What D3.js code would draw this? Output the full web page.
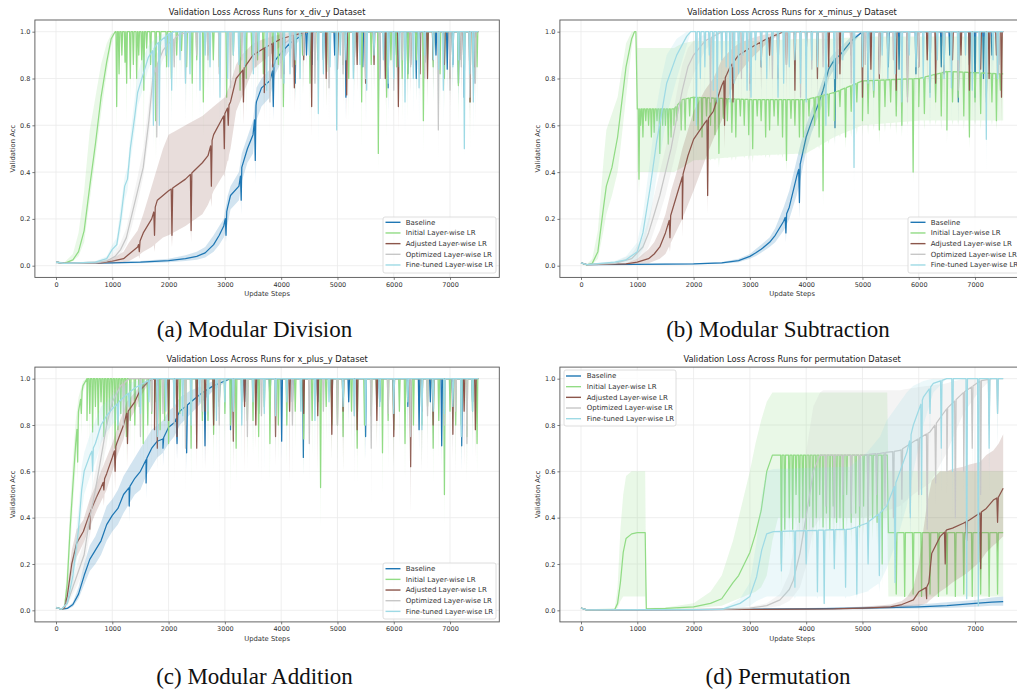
<!DOCTYPE html>
<html><head><meta charset="utf-8">
<script src="https://cdn.jsdelivr.net/npm/d3@7"></script>
<style>body{margin:0;background:#fff;overflow:hidden} svg{display:block}</style>
</head><body><svg id="c" width="1017" height="691"></svg>
<script>
// ---------- labels ----------
const seriesNames = ["Baseline","Initial Layer-wise LR","Adjusted Layer-wise LR","Optimized Layer-wise LR","Fine-tuned Layer-wise LR"];
const seriesColors = ["#1f77b4","#92dc85","#8c564b","#c7c7c7","#9edae5"];
const xTicks = [0,1000,2000,3000,4000,5000,6000,7000];
const yTicks = [0,0.2,0.4,0.6,0.8,1.0];
const panelTitles = ["Validation Loss Across Runs for x_div_y Dataset","Validation Loss Across Runs for x_minus_y Dataset","Validation Loss Across Runs for x_plus_y Dataset","Validation Loss Across Runs for permutation Dataset"];
const panelCaptions = ["(a) Modular Division","(b) Modular Subtraction","(c) Modular Addition","(d) Permutation"];
const xLabel = "Update Steps", yLabel = "Validation Acc";

// ---------- data: knots [step, mean, low, high]; dips [step, mean, bandLow] ----------
// (a) x_div_y
const A_base = [[0,0.015,0.01,0.02],[150,0.01,0.008,0.012],[1000,0.012,0.009,0.015],[1500,0.015,0.01,0.02],[2000,0.022,0.015,0.03],[2300,0.03,0.02,0.045],[2500,0.04,0.025,0.06],[2650,0.055,0.035,0.08],[2800,0.09,0.06,0.13],[2900,0.13,0.09,0.17],[2980,0.17,0.12,0.2],[3050,0.25,0.18,0.3],[3100,0.3,0.24,0.34],[3250,0.34,0.28,0.4],[3300,0.42,0.36,0.48],[3400,0.5,0.44,0.55],[3500,0.56,0.48,0.62],[3560,0.7,0.62,0.76],[3650,0.76,0.68,0.8],[3800,0.79,0.72,0.84],[3900,0.88,0.82,0.92],[4000,0.91,0.87,0.94],[4150,0.95,0.92,0.97],[4400,0.99,0.98,1],[4600,1,1,1],[7500,1,1,1]];
const A_base_dips = [[3020,0.13,0.1],[3290,0.28,0.22],[3540,0.45,0.35],[3860,0.68,0.62],[4050,0.85,0.8],[4150,0.9,0.82],[4250,0.78,0.7],[4450,0.9,0.85],[4550,0.86,0.78],[4750,0.88,0.8],[4950,0.9,0.8],[5150,0.72,0.62],[5300,0.88,0.78],[5450,0.85,0.75],[5750,0.8,0.7],[5900,0.76,0.66],[6050,0.9,0.8],[6250,0.82,0.72],[6400,0.8,0.7],[6550,0.87,0.8],[6750,0.9,0.8],[6950,0.84,0.75],[7050,0.86,0.76],[7150,0.78,0.68],[7250,0.72,0.6],[7350,0.9,0.8],[7420,0.78,0.7]];
const A_init = [[0,0.015,0.01,0.02],[150,0.01,0.008,0.015],[300,0.025,0.02,0.05],[400,0.06,0.04,0.14],[500,0.15,0.1,0.32],[600,0.34,0.28,0.58],[700,0.52,0.46,0.72],[800,0.72,0.65,0.86],[900,0.87,0.82,0.95],[980,0.97,0.94,0.99],[1050,1,1,1],[7500,1,1,1]];
const A_init_dips = [[1078,0.68,0.55],[1120,0.82,0.7],[1170,0.9,0.8],[1226,0.87,0.8],[1255,0.78,0.6],[1320,0.8,0.7],[1374,0.86,0.75],[1433,0.8,0.65],[1470,0.9,0.78],[1522,0.88,0.7],[1560,0.75,0.5],[1610,0.93,0.8],[1680,0.86,0.72],[1770,0.62,0.45],[1850,0.9,0.78],[1966,0.85,0.7],[2050,0.8,0.65],[2144,0.9,0.75],[2230,0.92,0.8],[2321,0.85,0.7],[2420,0.78,0.6],[2500,0.88,0.7],[2617,0.7,0.55],[2700,0.9,0.75],[2795,0.88,0.72],[2900,0.85,0.7],[3032,0.72,0.6],[3150,0.9,0.75],[3270,0.75,0.6],[3380,0.8,0.65],[3480,0.9,0.75],[3580,0.88,0.72],[3683,0.82,0.65],[3850,0.88,0.7],[3950,0.86,0.7],[4039,0.68,0.5],[4250,0.86,0.7],[4380,0.9,0.72],[4512,0.78,0.62],[4650,0.88,0.7],[4808,0.83,0.66],[5000,0.9,0.72],[5100,0.86,0.7],[5200,0.8,0.62],[5300,0.9,0.74],[5430,0.7,0.5],[5600,0.86,0.7],[5726,0.48,0.4],[5874,0.72,0.55],[5950,0.88,0.7],[6050,0.85,0.7],[6150,0.8,0.62],[6250,0.8,0.62],[6400,0.88,0.7],[6526,0.62,0.48],[6600,0.88,0.72],[6700,0.85,0.7],[6822,0.82,0.66],[6900,0.8,0.66],[7000,0.88,0.7],[7148,0.77,0.6],[7250,0.86,0.7],[7355,0.7,0.5],[7420,0.8,0.65],[7480,0.85,0.7]];
const A_adj = [[0,0.015,0.01,0.02],[150,0.01,0.008,0.012],[800,0.012,0.008,0.02],[1000,0.02,0.01,0.03],[1200,0.03,0.015,0.06],[1300,0.05,0.02,0.1],[1450,0.08,0.04,0.15],[1550,0.14,0.06,0.22],[1700,0.2,0.08,0.34],[1800,0.28,0.1,0.42],[1900,0.3,0.12,0.5],[2000,0.32,0.13,0.56],[2300,0.37,0.17,0.6],[2600,0.44,0.22,0.64],[2700,0.47,0.26,0.66],[2800,0.56,0.32,0.68],[3000,0.65,0.4,0.72],[3100,0.7,0.5,0.78],[3200,0.8,0.66,0.86],[3300,0.83,0.72,0.9],[3500,0.9,0.84,0.95],[3700,0.93,0.88,0.97],[4000,0.97,0.94,0.99],[4300,0.99,0.98,1],[4500,1,1,1],[7500,1,1,1]];
const A_adj_dips = [[1480,0.06,0.03],[1750,0.13,0.06],[2060,0.13,0.08],[2400,0.15,0.1],[2760,0.34,0.25],[2990,0.5,0.38],[3060,0.6,0.45],[3330,0.7,0.6],[3700,0.74,0.6],[3850,0.85,0.75],[4050,0.82,0.7],[4234,0.76,0.65],[4400,0.88,0.76],[4542,0.68,0.55],[4800,0.8,0.68],[5000,0.84,0.7],[5164,0.73,0.62],[5350,0.86,0.74],[5500,0.78,0.68],[5650,0.86,0.75],[5850,0.8,0.68],[6082,0.68,0.56],[6300,0.86,0.74],[6467,0.82,0.7],[6600,0.8,0.68],[6700,0.88,0.75],[6900,0.86,0.74],[7000,0.8,0.68],[7200,0.88,0.75],[7355,0.7,0.6],[7440,0.85,0.72]];
const A_opt = [[0,0.015,0.01,0.02],[150,0.01,0.008,0.012],[700,0.012,0.008,0.018],[900,0.02,0.012,0.03],[1050,0.04,0.02,0.06],[1150,0.07,0.05,0.1],[1250,0.12,0.09,0.16],[1350,0.22,0.17,0.27],[1450,0.32,0.27,0.38],[1550,0.42,0.38,0.5],[1650,0.62,0.55,0.7],[1720,0.8,0.72,0.86],[1780,0.85,0.8,0.9],[1900,0.92,0.88,0.95],[2000,0.95,0.92,0.98],[2200,0.99,0.97,1],[2400,1,1,1],[7500,1,1,1]];
const A_opt_dips = [[1790,0.55,0.45],[2100,0.85,0.75],[2300,0.8,0.6],[2500,0.9,0.8],[2700,0.88,0.7],[2900,0.82,0.7],[3100,0.76,0.6],[3300,0.88,0.75],[3550,0.85,0.7],[3800,0.7,0.55],[4000,0.8,0.6],[4200,0.85,0.7],[4400,0.9,0.72],[4600,0.78,0.6],[4850,0.76,0.6],[5100,0.82,0.68],[5300,0.86,0.7],[5500,0.8,0.6],[5750,0.8,0.62],[6000,0.75,0.6],[6150,0.88,0.7],[6300,0.85,0.7],[6550,0.8,0.6],[6792,0.58,0.45],[7000,0.75,0.6],[7200,0.85,0.65],[7350,0.72,0.55],[7450,0.78,0.6]];
const A_fine = [[0,0.015,0.01,0.02],[150,0.01,0.008,0.012],[700,0.015,0.01,0.02],[900,0.03,0.02,0.04],[1000,0.07,0.05,0.09],[1080,0.09,0.07,0.12],[1150,0.2,0.15,0.26],[1220,0.34,0.28,0.38],[1270,0.37,0.32,0.42],[1320,0.5,0.44,0.56],[1400,0.64,0.58,0.72],[1450,0.74,0.68,0.82],[1500,0.78,0.72,0.86],[1640,0.89,0.84,0.94],[1800,0.95,0.92,0.98],[2000,0.99,0.98,1],[2100,1,1,1],[7500,1,1,1]];
const A_fine_dips = [[1730,0.6,0.5],[1835,0.6,0.5],[1950,0.9,0.8],[2000,0.85,0.7],[2055,0.75,0.6],[2203,0.88,0.75],[2300,0.78,0.62],[2380,0.82,0.7],[2558,0.75,0.6],[2650,0.9,0.75],[2736,0.85,0.7],[2913,0.72,0.6],[3050,0.8,0.65],[3150,0.9,0.75],[3250,0.86,0.7],[3350,0.85,0.7],[3506,0.82,0.65],[3600,0.9,0.75],[3742,0.75,0.6],[3890,0.85,0.7],[4050,0.78,0.6],[4157,0.82,0.66],[4250,0.88,0.72],[4335,0.8,0.62],[4500,0.9,0.75],[4660,0.65,0.5],[4750,0.82,0.66],[4868,0.85,0.7],[4986,0.58,0.45],[5050,0.9,0.74],[5150,0.88,0.72],[5282,0.8,0.64],[5400,0.86,0.7],[5519,0.75,0.6],[5650,0.9,0.75],[5815,0.88,0.72],[5900,0.78,0.62],[6000,0.8,0.65],[6100,0.85,0.7],[6200,0.7,0.55],[6348,0.8,0.64],[6450,0.76,0.6],[6550,0.9,0.75],[6703,0.88,0.7],[6800,0.84,0.68],[6881,0.75,0.6],[7050,0.85,0.7],[7150,0.88,0.72],[7254,0.5,0.46],[7350,0.82,0.66],[7414,0.7,0.55]];

// (b) x_minus_y
const B_base = [[0,0.012,0.01,0.015],[100,0.005,0.003,0.007],[1000,0.006,0.004,0.008],[2000,0.008,0.005,0.011],[2500,0.012,0.008,0.016],[2800,0.022,0.015,0.03],[3000,0.04,0.03,0.05],[3100,0.054,0.04,0.07],[3200,0.07,0.055,0.09],[3350,0.1,0.08,0.12],[3450,0.13,0.1,0.16],[3600,0.19,0.15,0.25],[3700,0.25,0.2,0.32],[3830,0.38,0.3,0.45],[3900,0.44,0.37,0.52],[4000,0.55,0.49,0.6],[4100,0.62,0.57,0.67],[4200,0.68,0.63,0.73],[4300,0.75,0.7,0.8],[4400,0.84,0.8,0.88],[4500,0.88,0.84,0.91],[4600,0.9,0.87,0.93],[4800,0.96,0.94,0.98],[5000,1,1,1],[7500,1,1,1]];
const B_base_dips = [[3640,0.14,0.1],[3880,0.27,0.2],[4512,0.59,0.5],[5100,0.75,0.65],[5300,0.88,0.78],[5460,0.85,0.75],[5650,0.84,0.75],[5800,0.9,0.8],[5950,0.82,0.7],[6200,0.8,0.7],[6400,0.85,0.75],[6550,0.9,0.8],[6703,0.7,0.6],[6900,0.86,0.76],[7000,0.72,0.6],[7150,0.8,0.7],[7300,0.9,0.8],[7420,0.86,0.76]];
const B_init = [[0,0.012,0.01,0.015],[100,0.003,0.002,0.005],[200,0.01,0.005,0.03],[300,0.06,0.03,0.15],[400,0.25,0.15,0.45],[450,0.34,0.22,0.58],[550,0.42,0.3,0.65],[650,0.55,0.4,0.72],[700,0.65,0.5,0.8],[800,0.85,0.72,0.95],[900,0.97,0.93,1],[950,1,1,1],[975,1,1,1],[1000,0.67,0.4,0.93],[1650,0.67,0.4,0.93],[1800,0.71,0.42,0.95],[2000,0.72,0.45,0.96],[3000,0.71,0.47,0.96],[4000,0.71,0.48,0.97],[4500,0.74,0.55,0.97],[5000,0.79,0.6,0.98],[6000,0.8,0.62,0.98],[6500,0.83,0.62,0.98],[7500,0.82,0.62,0.98]];
const B_init_dips = [[1030,0.37,0.3],[1060,0.6,0.45],[1100,0.55,0.42],[1150,0.62,0.45],[1200,0.6,0.45],[1250,0.55,0.42],[1300,0.57,0.42],[1350,0.62,0.45],[1400,0.48,0.4],[1450,0.6,0.44],[1500,0.6,0.45],[1550,0.52,0.42],[1600,0.55,0.42],[1650,0.6,0.44],[1700,0.62,0.45],[1780,0.58,0.44],[1850,0.58,0.42],[1930,0.64,0.46],[2000,0.62,0.45],[2080,0.58,0.45],[2150,0.55,0.45],[2230,0.64,0.46],[2300,0.6,0.45],[2380,0.56,0.45],[2450,0.48,0.42],[2530,0.63,0.46],[2600,0.62,0.46],[2680,0.57,0.45],[2750,0.55,0.45],[2830,0.64,0.47],[2900,0.6,0.46],[2980,0.56,0.45],[3050,0.5,0.44],[3130,0.64,0.47],[3200,0.62,0.47],[3280,0.55,0.46],[3350,0.58,0.46],[3430,0.64,0.48],[3500,0.6,0.47],[3580,0.55,0.46],[3650,0.45,0.4],[3730,0.63,0.48],[3800,0.6,0.48],[3880,0.55,0.47],[3950,0.55,0.46],[4050,0.64,0.5],[4150,0.6,0.5],[4230,0.55,0.5],[4300,0.32,0.25],[4400,0.64,0.52],[4500,0.62,0.52],[4600,0.68,0.55],[4700,0.55,0.5],[4800,0.66,0.55],[4900,0.7,0.56],[5000,0.62,0.55],[5100,0.65,0.56],[5200,0.72,0.58],[5300,0.58,0.52],[5400,0.68,0.57],[5500,0.7,0.58],[5600,0.64,0.56],[5700,0.6,0.55],[5800,0.72,0.6],[5900,0.4,0.35],[6000,0.68,0.58],[6100,0.65,0.58],[6200,0.74,0.6],[6300,0.7,0.6],[6400,0.64,0.58],[6500,0.58,0.52],[6600,0.7,0.6],[6700,0.72,0.6],[6800,0.64,0.58],[6900,0.55,0.5],[7000,0.7,0.6],[7100,0.65,0.58],[7200,0.72,0.6],[7300,0.7,0.6],[7380,0.62,0.58],[7450,0.75,0.62]];
const B_adj = [[0,0.012,0.01,0.015],[100,0.005,0.003,0.007],[800,0.008,0.005,0.012],[1000,0.015,0.008,0.03],[1200,0.03,0.01,0.07],[1300,0.05,0.02,0.1],[1400,0.08,0.03,0.15],[1500,0.14,0.05,0.22],[1600,0.22,0.1,0.32],[1700,0.3,0.15,0.4],[1800,0.38,0.2,0.5],[1900,0.47,0.26,0.58],[2000,0.54,0.32,0.66],[2200,0.61,0.45,0.75],[2350,0.66,0.54,0.8],[2500,0.77,0.62,0.88],[2650,0.85,0.74,0.92],[2800,0.9,0.82,0.95],[3000,0.93,0.88,0.97],[3300,0.97,0.95,0.99],[3600,1,1,1],[7500,1,1,1]];
const B_adj_dips = [[1580,0.12,0.06],[1800,0.2,0.12],[2250,0.3,0.22],[2550,0.6,0.5],[2700,0.7,0.6],[3000,0.78,0.65],[3200,0.85,0.75],[3350,0.9,0.8],[3500,0.8,0.7],[3650,0.86,0.76],[3800,0.75,0.6],[4000,0.9,0.78],[4200,0.8,0.7],[4400,0.85,0.74],[4600,0.82,0.7],[4800,0.9,0.78],[5000,0.72,0.6],[5150,0.84,0.72],[5300,0.8,0.7],[5450,0.9,0.78],[5600,0.75,0.65],[5800,0.8,0.68],[6000,0.85,0.72],[6150,0.88,0.76],[6300,0.78,0.65],[6450,0.82,0.7],[6600,0.88,0.75],[6750,0.9,0.78],[6900,0.75,0.62],[7100,0.84,0.72],[7250,0.8,0.68],[7380,0.9,0.78],[7470,0.72,0.6]];
const B_opt = [[0,0.012,0.01,0.015],[100,0.005,0.003,0.007],[600,0.01,0.006,0.015],[900,0.03,0.015,0.05],[1100,0.08,0.04,0.12],[1200,0.14,0.08,0.2],[1300,0.22,0.15,0.3],[1400,0.3,0.22,0.4],[1500,0.4,0.3,0.5],[1600,0.5,0.4,0.6],[1700,0.63,0.5,0.74],[1800,0.75,0.62,0.86],[1900,0.85,0.75,0.93],[2000,0.9,0.82,0.96],[2200,0.96,0.92,0.99],[2500,1,1,1],[7500,1,1,1]];
const B_opt_dips = [[2300,0.7,0.55],[2500,0.88,0.7],[2700,0.85,0.7],[2850,0.8,0.6],[3000,0.75,0.6],[3200,0.88,0.7],[3400,0.8,0.65],[3650,0.86,0.68],[3900,0.72,0.6],[4100,0.84,0.66],[4300,0.85,0.7],[4550,0.8,0.62],[4800,0.78,0.6],[5050,0.86,0.68],[5300,0.82,0.65],[5550,0.88,0.7],[5800,0.7,0.55],[6000,0.85,0.66],[6200,0.8,0.6],[6450,0.86,0.66],[6700,0.75,0.55],[6950,0.84,0.64],[7200,0.7,0.5],[7420,0.82,0.62]];
const B_fine = [[0,0.012,0.01,0.015],[100,0.005,0.003,0.007],[600,0.015,0.01,0.02],[800,0.025,0.015,0.04],[1000,0.06,0.03,0.1],[1100,0.14,0.07,0.22],[1226,0.33,0.2,0.45],[1344,0.53,0.38,0.68],[1430,0.65,0.5,0.8],[1522,0.78,0.64,0.9],[1700,0.9,0.8,0.97],[1877,0.98,0.94,1],[1950,1,1,1],[7500,1,1,1]];
const B_fine_dips = [[2050,0.6,0.45],[2120,0.8,0.65],[2200,0.85,0.7],[2280,0.9,0.75],[2350,0.75,0.6],[2420,0.7,0.55],[2500,0.88,0.75],[2580,0.85,0.7],[2650,0.7,0.55],[2720,0.78,0.6],[2800,0.82,0.7],[2880,0.9,0.75],[2950,0.75,0.6],[3020,0.72,0.55],[3100,0.88,0.75],[3200,0.85,0.7],[3300,0.8,0.65],[3400,0.9,0.75],[3500,0.72,0.6],[3600,0.78,0.6],[3700,0.85,0.7],[3800,0.88,0.72],[3900,0.78,0.6],[4000,0.7,0.55],[4100,0.88,0.75],[4200,0.85,0.7],[4350,0.6,0.45],[4500,0.8,0.65],[4650,0.88,0.72],[4850,0.42,0.3],[5000,0.85,0.7],[5100,0.78,0.62],[5200,0.75,0.6],[5350,0.9,0.74],[5450,0.8,0.65],[5580,0.82,0.66],[5700,0.7,0.55],[5830,0.9,0.74],[5950,0.85,0.7],[6080,0.8,0.64],[6200,0.72,0.55],[6330,0.88,0.72],[6450,0.8,0.65],[6580,0.76,0.6],[6700,0.88,0.7],[6830,0.9,0.74],[6950,0.75,0.6],[7080,0.82,0.66],[7200,0.54,0.4],[7320,0.88,0.72],[7400,0.8,0.65]];

// (c) x_plus_y
const C_base = [[0,0.012,0.01,0.015],[100,0.005,0.003,0.008],[200,0.008,0.005,0.012],[300,0.025,0.015,0.035],[400,0.07,0.05,0.1],[500,0.15,0.11,0.2],[600,0.22,0.17,0.28],[700,0.26,0.2,0.32],[800,0.3,0.24,0.38],[900,0.37,0.3,0.45],[1000,0.41,0.34,0.48],[1100,0.44,0.37,0.52],[1200,0.5,0.42,0.58],[1300,0.53,0.46,0.62],[1400,0.57,0.5,0.66],[1500,0.6,0.52,0.7],[1600,0.65,0.58,0.74],[1700,0.7,0.62,0.78],[1800,0.73,0.66,0.8],[1900,0.74,0.68,0.82],[2000,0.79,0.72,0.86],[2100,0.81,0.75,0.88],[2200,0.86,0.8,0.92],[2400,0.9,0.85,0.95],[2600,0.94,0.9,0.97],[2800,0.97,0.95,0.99],[3100,1,1,1],[7500,1,1,1]];
const C_base_dips = [[1300,0.45,0.38],[1600,0.55,0.48],[1900,0.7,0.62],[2150,0.72,0.65],[2321,0.68,0.6],[2647,0.71,0.62],[2900,0.9,0.8],[3100,0.78,0.7],[3350,0.9,0.8],[3600,0.85,0.75],[3800,0.9,0.8],[4009,0.73,0.65],[4200,0.9,0.8],[4394,0.66,0.58],[4650,0.9,0.8],[4900,0.88,0.8],[5200,0.9,0.8],[5500,0.75,0.65],[5750,0.9,0.8],[6000,0.93,0.85],[6250,0.88,0.78],[6450,0.78,0.68],[6650,0.9,0.8],[6852,0.71,0.62],[7050,0.9,0.8],[7207,0.71,0.6],[7400,0.9,0.8]];
const C_init = [[0,0.012,0.01,0.015],[100,0.005,0.003,0.008],[150,0.01,0.006,0.02],[200,0.12,0.07,0.2],[250,0.35,0.25,0.45],[300,0.54,0.45,0.65],[350,0.72,0.62,0.82],[400,0.86,0.8,0.92],[480,0.97,0.94,0.99],[550,1,1,1],[7500,1,1,1]];
const C_init_dips = [[385,0.64,0.55],[450,0.85,0.75],[550,0.82,0.7],[600,0.85,0.7],[650,0.77,0.65],[700,0.88,0.75],[750,0.8,0.68],[800,0.9,0.78],[850,0.75,0.62],[900,0.8,0.68],[950,0.85,0.7],[1000,0.88,0.75],[1050,0.7,0.6],[1100,0.78,0.66],[1150,0.85,0.7],[1200,0.9,0.78],[1250,0.75,0.62],[1320,0.82,0.7],[1400,0.8,0.65],[1480,0.88,0.75],[1550,0.72,0.6],[1630,0.8,0.66],[1700,0.85,0.7],[1780,0.9,0.76],[1850,0.78,0.62],[1930,0.82,0.68],[2000,0.72,0.6],[2100,0.88,0.74],[2200,0.85,0.7],[2300,0.8,0.66],[2400,0.7,0.55],[2500,0.9,0.76],[2600,0.82,0.66],[2700,0.82,0.66],[2800,0.76,0.6],[2900,0.88,0.72],[3000,0.85,0.7],[3100,0.8,0.5],[3200,0.7,0.55],[3300,0.9,0.74],[3400,0.82,0.65],[3500,0.82,0.66],[3600,0.75,0.6],[3700,0.88,0.72],[3800,0.72,0.55],[3950,0.8,0.64],[4100,0.8,0.62],[4250,0.86,0.7],[4400,0.74,0.58],[4550,0.82,0.66],[4700,0.53,0.34],[4800,0.88,0.72],[4900,0.8,0.65],[5000,0.8,0.64],[5100,0.75,0.6],[5250,0.86,0.7],[5350,0.7,0.55],[5480,0.8,0.64],[5600,0.84,0.68],[5700,0.88,0.72],[5800,0.68,0.5],[5900,0.82,0.66],[6000,0.78,0.6],[6100,0.86,0.7],[6200,0.72,0.55],[6350,0.8,0.64],[6500,0.8,0.62],[6600,0.88,0.72],[6700,0.7,0.55],[6800,0.82,0.66],[6900,0.5,0.36],[7000,0.86,0.7],[7100,0.8,0.62],[7200,0.8,0.64],[7300,0.75,0.58],[7400,0.86,0.7],[7480,0.72,0.58]];
const C_adj = [[0,0.012,0.01,0.015],[100,0.005,0.003,0.008],[150,0.01,0.006,0.02],[200,0.06,0.04,0.1],[280,0.2,0.15,0.26],[367,0.29,0.23,0.35],[486,0.34,0.29,0.39],[600,0.42,0.36,0.48],[722,0.49,0.43,0.55],[800,0.53,0.47,0.6],[900,0.59,0.52,0.66],[1000,0.66,0.6,0.72],[1078,0.72,0.66,0.78],[1200,0.8,0.74,0.86],[1255,0.85,0.8,0.9],[1400,0.9,0.86,0.94],[1492,0.95,0.92,0.97],[1650,0.99,0.98,1],[1750,1,1,1],[7500,1,1,1]];
const C_adj_dips = [[600,0.35,0.3],[850,0.52,0.45],[1050,0.6,0.52],[1270,0.72,0.62],[1750,0.78,0.7],[1800,0.7,0.6],[2000,0.82,0.7],[2150,0.75,0.65],[2500,0.7,0.6],[2650,0.86,0.6],[2800,0.8,0.7],[3150,0.73,0.62],[3350,0.88,0.6],[3550,0.8,0.7],[3900,0.75,0.62],[4150,0.86,0.55],[4400,0.85,0.72],[4650,0.84,0.6],[4900,0.76,0.65],[5100,0.86,0.6],[5350,0.78,0.66],[5700,0.82,0.7],[6000,0.75,0.62],[6300,0.62,0.42],[6500,0.86,0.6],[6700,0.8,0.68],[7050,0.76,0.65],[7250,0.86,0.62],[7450,0.78,0.66]];
const C_opt = [[0,0.012,0.01,0.015],[100,0.005,0.003,0.008],[200,0.03,0.02,0.05],[300,0.1,0.07,0.14],[400,0.17,0.12,0.22],[500,0.24,0.18,0.3],[600,0.4,0.33,0.48],[700,0.52,0.45,0.6],[800,0.66,0.58,0.74],[900,0.8,0.72,0.86],[1000,0.9,0.84,0.94],[1150,0.97,0.95,0.99],[1300,1,1,1],[7500,1,1,1]];
const C_opt_dips = [[1200,0.8,0.65],[1500,0.75,0.6],[1700,0.86,0.6],[1900,0.85,0.7],[2100,0.8,0.55],[2300,0.7,0.5],[2600,0.86,0.6],[2900,0.8,0.4],[3150,0.86,0.6],[3400,0.75,0.6],[3650,0.84,0.55],[3900,0.85,0.7],[4200,0.8,0.55],[4500,0.72,0.55],[4750,0.86,0.6],[5000,0.8,0.6],[5300,0.84,0.55],[5600,0.7,0.45],[5900,0.85,0.6],[6300,0.75,0.4],[6600,0.84,0.6],[6900,0.8,0.6],[7100,0.86,0.55],[7300,0.72,0.55]];
const C_fine = [[0,0.012,0.01,0.015],[100,0.005,0.003,0.008],[200,0.03,0.02,0.05],[300,0.15,0.1,0.22],[400,0.35,0.28,0.44],[456,0.52,0.42,0.62],[500,0.6,0.5,0.68],[604,0.67,0.58,0.76],[700,0.72,0.64,0.82],[800,0.8,0.72,0.88],[900,0.84,0.77,0.9],[1000,0.87,0.8,0.93],[1200,0.92,0.86,0.97],[1400,0.96,0.92,0.99],[1700,1,1,1],[7500,1,1,1]];
const C_fine_dips = [[650,0.6,0.52],[1100,0.8,0.7],[1300,0.88,0.7],[1500,0.85,0.7],[1650,0.9,0.72],[1800,0.75,0.6],[1950,0.86,0.66],[2100,0.88,0.75],[2250,0.84,0.64],[2400,0.8,0.65],[2550,0.9,0.7],[2700,0.86,0.7],[2850,0.82,0.64],[3000,0.9,0.75],[3150,0.86,0.66],[3300,0.8,0.65],[3500,0.9,0.7],[3700,0.85,0.6],[3900,0.84,0.64],[4100,0.9,0.75],[4350,0.86,0.66],[4600,0.82,0.65],[4850,0.9,0.7],[5100,0.88,0.7],[5300,0.84,0.64],[5500,0.8,0.65],[5750,0.88,0.68],[6000,0.85,0.7],[6250,0.9,0.7],[6500,0.78,0.6],[6700,0.86,0.66],[6900,0.85,0.5],[7050,0.88,0.68],[7200,0.75,0.6],[7400,0.86,0.66]];

// (d) permutation
const D_base = [[0,0.01,0.008,0.012],[100,0.002,0.001,0.004],[2000,0.003,0.001,0.005],[4000,0.006,0.003,0.01],[5000,0.01,0.005,0.015],[6000,0.015,0.008,0.025],[6500,0.02,0.01,0.035],[7000,0.03,0.015,0.045],[7300,0.035,0.02,0.055],[7500,0.038,0.02,0.06]];
const D_base_dips = [];
const D_init = [[0,0.01,0.008,0.012],[100,0.002,0.001,0.004],[600,0.004,0.002,0.01],[650,0.03,0.01,0.1],[700,0.12,0.04,0.35],[750,0.25,0.06,0.5],[800,0.31,0.06,0.58],[900,0.33,0.06,0.6],[1000,0.335,0.06,0.6],[1140,0.335,0.06,0.6],[1160,0.006,0.003,0.01],[1500,0.008,0.004,0.012],[2000,0.015,0.008,0.03],[2300,0.03,0.015,0.08],[2500,0.05,0.02,0.15],[2700,0.12,0.04,0.3],[2800,0.15,0.05,0.4],[2900,0.2,0.06,0.5],[3000,0.25,0.07,0.6],[3100,0.33,0.08,0.72],[3200,0.43,0.1,0.82],[3300,0.6,0.15,0.9],[3400,0.67,0.3,0.94],[3500,0.67,0.4,0.94],[5440,0.67,0.4,0.94],[5460,0.335,0.06,0.6],[7500,0.335,0.06,0.6]];
const D_init_dips = [[3560,0.2,0.1],[3620,0.35,0.25],[3700,0.4,0.3],[3760,0.35,0.25],[3820,0.5,0.35],[3880,0.38,0.28],[3940,0.4,0.3],[4000,0.35,0.25],[4060,0.45,0.32],[4120,0.36,0.26],[4180,0.4,0.3],[4240,0.5,0.35],[4300,0.36,0.26],[4360,0.42,0.3],[4420,0.35,0.25],[4480,0.45,0.32],[4540,0.38,0.28],[4600,0.4,0.3],[4660,0.35,0.25],[4720,0.5,0.35],[4800,0.38,0.28],[4880,0.42,0.3],[4950,0.36,0.26],[5020,0.45,0.32],[5100,0.35,0.25],[5180,0.4,0.3],[5260,0.38,0.28],[5350,0.2,0.1],[5600,0.07,0.06],[5750,0.06,0.06],[5900,0.07,0.06],[6050,0.06,0.06],[6200,0.07,0.06],[6350,0.06,0.06],[6500,0.07,0.06],[6650,0.06,0.06],[6800,0.07,0.06],[6950,0.06,0.06],[7100,0.07,0.06],[7250,0.06,0.06],[7400,0.07,0.06]];
const D_adj = [[0,0.01,0.008,0.012],[100,0.002,0.001,0.004],[3000,0.004,0.002,0.006],[4500,0.006,0.003,0.01],[5000,0.01,0.005,0.015],[5500,0.015,0.008,0.025],[5700,0.025,0.012,0.04],[5800,0.035,0.015,0.06],[5904,0.045,0.02,0.1],[6000,0.08,0.02,0.2],[6141,0.1,0.03,0.45],[6180,0.12,0.04,0.5],[6230,0.245,0.05,0.56],[6378,0.318,0.08,0.6],[6496,0.347,0.1,0.6],[6600,0.355,0.12,0.61],[6792,0.376,0.15,0.62],[6900,0.39,0.17,0.63],[7088,0.42,0.21,0.64],[7200,0.44,0.25,0.67],[7325,0.476,0.28,0.69],[7420,0.49,0.3,0.72],[7500,0.527,0.32,0.76]];
const D_adj_dips = [[6140,0.05,0.03],[6470,0.2,0.1],[6850,0.3,0.15],[7100,0.18,0.1],[7400,0.38,0.25]];
const D_opt = [[0,0.01,0.008,0.012],[100,0.002,0.001,0.004],[2500,0.004,0.002,0.006],[3000,0.01,0.005,0.015],[3300,0.02,0.01,0.03],[3535,0.045,0.02,0.07],[3700,0.09,0.04,0.16],[3772,0.13,0.06,0.26],[3890,0.246,0.1,0.45],[4009,0.42,0.2,0.7],[4127,0.6,0.35,0.88],[4246,0.67,0.4,0.94],[4300,0.67,0.4,0.95],[5000,0.67,0.4,0.95],[5312,0.678,0.42,0.95],[5667,0.69,0.45,0.95],[5904,0.728,0.5,0.96],[6200,0.77,0.55,0.97],[6496,0.87,0.68,0.98],[6792,0.94,0.85,1],[7088,0.99,0.95,1],[7300,1,1,1],[7500,1,1,1]];
const D_opt_dips = [[4350,0.45,0.35],[4500,0.4,0.3],[4650,0.5,0.38],[4800,0.42,0.32],[4950,0.45,0.35],[5100,0.38,0.3],[5250,0.5,0.38],[5400,0.45,0.35],[5550,0.4,0.3],[5700,0.48,0.38],[5850,0.42,0.32],[6000,0.5,0.4],[6150,0.35,0.3],[6300,0.55,0.45],[6500,0.6,0.5],[6650,0.4,0.35],[6800,0.6,0.5],[6950,0.7,0.55],[7100,0.5,0.4],[7250,0.8,0.6],[7400,0.85,0.7]];
const D_fine = [[0,0.01,0.008,0.012],[100,0.002,0.001,0.004],[2500,0.004,0.002,0.006],[2825,0.03,0.01,0.05],[3000,0.06,0.02,0.12],[3120,0.145,0.04,0.3],[3210,0.26,0.05,0.5],[3298,0.33,0.06,0.6],[3417,0.34,0.06,0.61],[4778,0.35,0.06,0.62],[5075,0.376,0.08,0.68],[5312,0.42,0.12,0.75],[5430,0.45,0.18,0.82],[5608,0.56,0.3,0.88],[5786,0.68,0.45,0.94],[5904,0.8,0.6,0.97],[6082,0.92,0.8,0.99],[6259,0.98,0.94,1],[6496,1,1,1],[7500,1,1,1]];
const D_fine_dips = [[3560,0.17,0.08],[3800,0.1,0.05],[4000,0.2,0.08],[4200,0.08,0.05],[4320,0.03,0.02],[4500,0.18,0.08],[4700,0.1,0.05],[4900,0.07,0.05],[5100,0.2,0.08],[5300,0.15,0.08],[5580,0.12,0.05],[5850,0.4,0.2],[6050,0.5,0.3],[6200,0.85,0.7],[6400,0.7,0.5],[6600,0.6,0.4],[6852,0.05,0.0],[7058,0.02,0.0],[7250,0.7,0.5],[7400,0.85,0.7]];

// ---------- layout ----------
const panels = [
  {title:panelTitles[0], caption:panelCaptions[0], left:34.9, right:499.3, top:20, bottom:277.4, capX:254.5, capY:337,
   legend:{x:383, y:217, w:113, h:56, row0:222.3, lineX:385.5, textX:405.7},
   series:[[A_base,A_base_dips],[A_init,A_init_dips],[A_adj,A_adj_dips],[A_opt,A_opt_dips],[A_fine,A_fine_dips]]},
  {title:panelTitles[1], caption:panelCaptions[1], left:559.9, right:1024.3, top:20, bottom:277.4, capX:778, capY:337,
   legend:{x:908, y:217, w:113, h:56, row0:222.3, lineX:910.5, textX:930.7},
   series:[[B_base,B_base_dips],[B_init,B_init_dips],[B_adj,B_adj_dips],[B_opt,B_opt_dips],[B_fine,B_fine_dips]]},
  {title:panelTitles[2], caption:panelCaptions[2], left:34.9, right:499.3, top:367.1, bottom:621.9, capX:254.5, capY:684,
   legend:{x:383, y:563, w:113, h:56, row0:568.7, lineX:385.5, textX:405.7},
   series:[[C_base,C_base_dips],[C_init,C_init_dips],[C_adj,C_adj_dips],[C_opt,C_opt_dips],[C_fine,C_fine_dips]]},
  {title:panelTitles[3], caption:panelCaptions[3], left:559.9, right:1024.3, top:367.1, bottom:621.9, capX:778, capY:684,
   legend:{x:564, y:370, w:112, h:56, row0:376, lineX:566, textX:586.7},
   series:[[D_base,D_base_dips],[D_init,D_init_dips],[D_adj,D_adj_dips],[D_opt,D_opt_dips],[D_fine,D_fine_dips]]}
];

// ---------- helpers ----------
function interp(knots, x, k){
  if (x <= knots[0][0]) return knots[0][k];
  for (let i=1;i<knots.length;i++){
    if (x <= knots[i][0]){ const a=knots[i-1], b=knots[i]; const t=(x-a[0])/(b[0]-a[0]); return a[k]+(b[k]-a[k])*t; }
  }
  return knots[knots.length-1][k];
}
function build(knots, dips){
  const W = 13;
  const pts = knots.map(p=>({x:p[0], m:p[1], lo:p[2], hi:p[3]}));
  dips.forEach(d=>{
    [-W, W].forEach(o=>{ const x=d[0]+o; pts.push({x, m:interp(knots,x,1), lo:interp(knots,x,2), hi:interp(knots,x,3)}); });
    pts.push({x:d[0], m:d[1], lo:Math.min(d[2], interp(knots,d[0],2)), hi:interp(knots,d[0],3)});
  });
  pts.sort((a,b)=>a.x-b.x);
  return pts;
}

const FONT = "'DejaVu Sans', sans-serif";
const svg = d3.select("#c");
const defs = svg.append("defs");

panels.forEach((P, pi)=>{
  const x = d3.scaleLinear().domain([-375, 7875]).range([P.left, P.right]);
  const y = d3.scaleLinear().domain([-0.05, 1.05]).range([P.bottom, P.top]);
  const g = svg.append("g");

  g.append("g").selectAll("line").data(xTicks).join("line")
    .attr("x1",d=>x(d)).attr("x2",d=>x(d)).attr("y1",P.top).attr("y2",P.bottom)
    .attr("stroke","#ebebeb").attr("stroke-width",0.8);
  g.append("g").selectAll("line").data(yTicks).join("line")
    .attr("y1",d=>y(d)).attr("y2",d=>y(d)).attr("x1",P.left).attr("x2",P.right)
    .attr("stroke","#ebebeb").attr("stroke-width",0.8);

  const cid = "clip"+pi;
  defs.append("clipPath").attr("id",cid).append("rect")
    .attr("x",P.left).attr("y",P.top).attr("width",P.right-P.left).attr("height",P.bottom-P.top);
  const plot = g.append("g").attr("clip-path",`url(#${cid})`);

  const line = d3.line().x(d=>x(d.x)).y(d=>y(d.m));
  const area = d3.area().x(d=>x(d.x)).y0(d=>y(d.lo)).y1(d=>y(d.hi));
  P.series.forEach((S, si)=>{
    const pts = build(S[0], S[1]);
    plot.append("path").attr("d", line(pts)).attr("fill","none")
      .attr("stroke", seriesColors[si]).attr("stroke-width",1.25).attr("stroke-linejoin","round");
    plot.append("path").attr("d", area(pts)).attr("fill", seriesColors[si]).attr("fill-opacity",0.2).attr("stroke","none");
  });

  const ax = g.append("g").attr("transform",`translate(0,${P.bottom})`)
    .call(d3.axisBottom(x).tickValues(xTicks).tickSize(2.5).tickPadding(2).tickFormat(d3.format("d")));
  const ay = g.append("g").attr("transform",`translate(${P.left},0)`)
    .call(d3.axisLeft(y).tickValues(yTicks).tickSize(2.5).tickPadding(2).tickFormat(d3.format(".1f")));
  [ax, ay].forEach(a=>{
    a.select(".domain").remove();
    a.selectAll("line").attr("stroke","#444").attr("stroke-width",0.7);
    a.selectAll("text").attr("fill","#333").style("font-family",FONT).style("font-size","6.5px");
  });

  g.append("rect").attr("x",P.left).attr("y",P.top).attr("width",P.right-P.left).attr("height",P.bottom-P.top)
    .attr("fill","none").attr("stroke","#555").attr("stroke-width",0.9);

  g.append("text").attr("x",(P.left+P.right)/2).attr("y",P.top-5).attr("text-anchor","middle")
    .attr("fill","#222").style("font-family",FONT).style("font-size","8.3px").text(P.title);
  g.append("text").attr("x",(P.left+P.right)/2).attr("y",P.bottom+18.8).attr("text-anchor","middle")
    .attr("fill","#333").style("font-family",FONT).style("font-size","6.8px").text(xLabel);
  g.append("text").attr("transform",`translate(${P.left-20.3},${(P.top+P.bottom)/2}) rotate(-90)`)
    .attr("text-anchor","middle").attr("fill","#333").style("font-family",FONT).style("font-size","6.8px").text(yLabel);

  const L = P.legend;
  const lg = g.append("g");
  lg.append("rect").attr("x",L.x).attr("y",L.y).attr("width",L.w).attr("height",L.h).attr("rx",2)
    .attr("fill","#fff").attr("fill-opacity",0.8).attr("stroke","#d6d6d6").attr("stroke-width",0.8);
  seriesNames.forEach((n,i)=>{
    const yy = L.row0 + i*10.67;
    lg.append("line").attr("x1",L.lineX).attr("x2",L.lineX+15).attr("y1",yy).attr("y2",yy)
      .attr("stroke",seriesColors[i]).attr("stroke-width",1.4);
    lg.append("text").attr("x",L.textX).attr("y",yy+2.4).attr("fill","#333")
      .style("font-family",FONT).style("font-size","7px").text(n);
  });

  svg.append("text").attr("x",P.capX).attr("y",P.capY).attr("text-anchor","middle")
    .attr("fill","#111").style("font-family","'Liberation Serif', 'Times New Roman', serif")
    .style("font-size","23px").text(P.caption);
});
</script>
</body></html>
